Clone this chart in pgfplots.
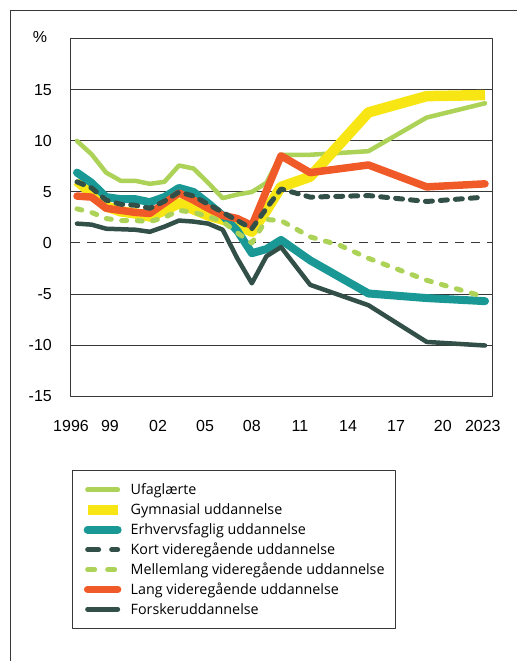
\documentclass[border=0pt]{standalone}
\usepackage{fontspec}
\setmainfont{Liberation Sans}
\newfontfamily\legfont{Open Sans}
\usepackage{pgfplots}
\pgfplotsset{compat=1.18}
\definecolor{cUfa}{RGB}{172,210,88}
\definecolor{cGym}{RGB}{248,230,20}
\definecolor{cErh}{RGB}{26,152,150}
\definecolor{cDark}{RGB}{50,80,72}
\definecolor{cLang}{RGB}{240,90,40}
\definecolor{cFrame}{RGB}{55,55,55}
\begin{document}
\begin{tikzpicture}[x=1bp,y=1bp]
\path[use as bounding box] (-70.7,-265) rectangle (446.3,396);
\draw[line width=1bp, cFrame] (446.3,385) -- (-59.7,385) -- (-59.7,-265);
\node[inner sep=0pt] at (-30.7,359) {\fontsize{16bp}{19bp}\selectfont\%};
\begin{axis}[
  at={(0,0)}, anchor=south west, scale only axis,
  width=421.3bp, height=357bp,
  xmin=-0.432, xmax=28.48, ymin=-15, ymax=20,
  axis line style={line width=1bp, cFrame},
  xtick={-0.41,2.26,5.56,8.79,12.0,15.3,18.6,21.9,25.1,27.85},
  xticklabels={1996,99,02,05,08,11,14,17,20,2023},
  ytick={-15,-10,-5,5,10,15},
  yticklabels={-15,-10,-5,5,10,15},
  extra y ticks={0},
  extra y tick labels={0},
  extra y tick style={grid style={dash pattern=on 9bp off 7bp, line width=1bp, cFrame}},
  ymajorgrids,
  grid style={line width=1bp, cFrame},
  major tick length=0pt,
  tick label style={font=\fontsize{16bp}{19bp}\selectfont, inner sep=0pt},
  xticklabel style={anchor=center, yshift=-30bp},
  yticklabel style={anchor=east, xshift=-18.7bp},
  legend image code/.code={\draw[#1] (1bp,0bp) -- (31bp,0bp);},
  legend cell align=left,
  legend style={at={(0.0024,-0.2073)}, anchor=north west,
    draw=cFrame, line width=0.9bp,
    inner xsep=10.5bp, inner ysep=9.5bp,
    row sep=0pt, column sep=0bp,
    font=\legfont\fontsize{14.3bp}{17bp}\selectfont,
    nodes={inner xsep=0pt, inner ysep=0pt, minimum height=19.9bp}},
  line join=round,
]
% legend images
\addlegendimage{cUfa, line width=5bp, line cap=round}
\addlegendentry{\hspace*{8bp}Ufaglærte}
\addlegendimage{cGym, line width=10bp, line cap=butt}
\addlegendentry{\hspace*{8bp}Gymnasial uddannelse}
\addlegendimage{cErh, line width=8bp, line cap=round}
\addlegendentry{\hspace*{8bp}Erhvervsfaglig uddannelse}
\addlegendimage{cDark, line width=5bp, line cap=round, dash pattern=on 11bp off 13bp}
\addlegendentry{\hspace*{8bp}Kort videregående uddannelse}
\addlegendimage{cUfa, line width=5bp, line cap=round, dash pattern=on 7bp off 13bp}
\addlegendentry{\hspace*{8bp}Mellemlang videregående uddannelse}
\addlegendimage{cLang, line width=7.5bp, line cap=round}
\addlegendentry{\hspace*{8bp}Lang videregående uddannelse}
\addlegendimage{cDark, line width=5bp, line cap=round}
\addlegendentry{\hspace*{8bp}Forskeruddannelse}

% Ufaglaerte
\addplot[forget plot, cUfa, line width=4.5bp, line cap=round] coordinates {
(0,10.0) (1,8.7) (2,6.9) (3,6.1) (4,6.1) (5,5.8) (6,6.0) (7,7.6) (8,7.3)
(9,5.9) (10,4.4) (11,4.75) (12,5.0) (13,5.9) (14,8.65) (16,8.65) (20,9.0) (24,12.3) (28,13.7)};
% Gymnasial
\addplot[forget plot, cGym, line width=10.5bp, line cap=butt] coordinates {
(0,6.1) (1,4.9) (2,3.6) (3,3.1) (4,2.9) (5,2.6) (6,3.2) (7,3.9) (8,3.3)
(9,2.7) (10,2.3) (11,1.8) (12,1.1) (13,3.2) (14,5.5) (16,6.5) (20,12.8) (24,14.4) (28,14.5)};
% Erhvervsfaglig
\addplot[forget plot, cErh, line width=8bp, line cap=round] coordinates {
(0,6.9) (1,5.9) (2,4.5) (3,4.3) (4,4.3) (5,4.0) (6,4.5) (7,5.4) (8,5.0)
(9,3.9) (10,2.7) (11,1.2) (12,-1.0) (13,-0.6) (14,0.3) (16,-1.7) (20,-4.95) (24,-5.4) (28,-5.7)};
% Lang
\addplot[forget plot, cLang, line width=7.5bp, line cap=round] coordinates {
(0,4.6) (1,4.5) (2,3.4) (3,3.2) (4,3.0) (5,2.9) (6,3.9) (7,4.9) (8,4.2)
(9,3.4) (10,2.7) (11,2.4) (12,1.7) (14,8.55) (16,6.9) (20,7.65) (24,5.5) (28,5.8)};
% Kort
\addplot[forget plot, cDark, line width=5bp, line cap=round, dash pattern=on 7bp off 8bp] coordinates {
(0,6.0) (1,5.4) (2,4.2) (3,3.8) (4,3.7) (5,3.4) (6,4.1) (7,5.0) (8,4.6)
(9,3.8) (10,3.0) (11,2.2) (12,1.4) (13,3.4) (14,5.3) (16,4.5) (20,4.65) (24,4.07) (28,4.5)};
% Mellemlang
\addplot[forget plot, cUfa, line width=5bp, line cap=round, dash pattern=on 5bp off 10.5bp] coordinates {
(0,3.35) (1,3.0) (2,2.4) (3,2.2) (4,2.2) (5,2.1) (6,2.5) (7,3.2) (8,3.0)
(9,2.6) (10,2.1) (11,1.0) (12,0.0) (13,2.3) (14,2.2) (16,0.6) (18,-0.2) (20,-1.5) (24,-3.65) (28,-5.3)};
% Forsker
\addplot[forget plot, cDark, line width=4.5bp, line cap=round] coordinates {
(0,1.9) (1,1.8) (2,1.4) (3,1.35) (4,1.3) (5,1.1) (6,1.6) (7,2.2) (8,2.1)
(9,1.9) (10,1.3) (11,-1.5) (12,-3.95) (13,-1.3) (14,-0.4) (16,-4.1) (20,-6.1) (24,-9.7) (28,-10.05)};
\end{axis}
\end{tikzpicture}
\end{document}
